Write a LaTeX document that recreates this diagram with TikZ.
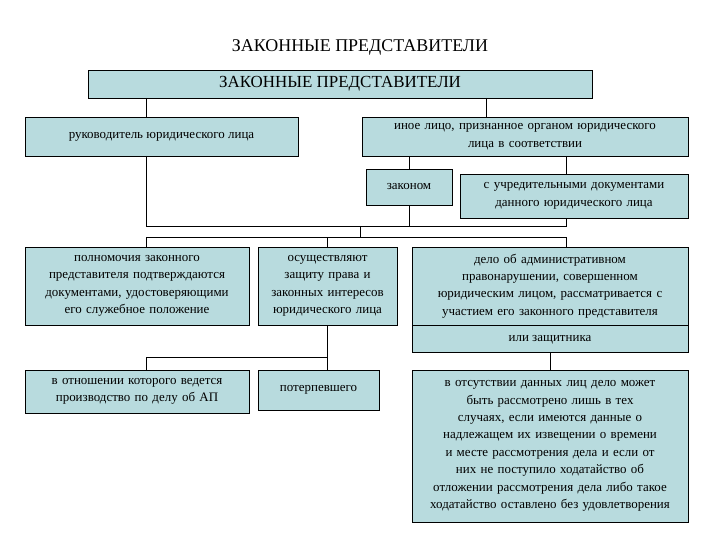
\documentclass[tikz,border=0pt]{standalone}
\usepackage{fontspec}
\setmainfont{Liberation Serif}
\begin{document}
\begin{tikzpicture}[x=1bp,y=-1bp,
 box/.style={draw=black,line width=0.8bp,fill={rgb,255:red,184;green,219;blue,222},align=center,inner sep=1bp,font=\fontsize{13}{17.5}\selectfont},
 ln/.style={line width=0.8bp}]
\useasboundingbox (0,0) rectangle (720,540);
\node[font=\fontsize{18}{20}\selectfont] (title) at (360,47) {ЗАКОННЫЕ ПРЕДСТАВИТЕЛИ};
\node[box,minimum width=504bp,minimum height=28bp,font=\fontsize{17}{20}\selectfont] (top) at (340,84) {ЗАКОННЫЕ ПРЕДСТАВИТЕЛИ};
\node[box,minimum width=273bp,minimum height=39bp] (ruk) at (161.5,136.5) {руководитель юридического лица};
\node[box,minimum width=326bp,minimum height=39bp,text width=320bp] (inoe) at (525,136.5) {иное лицо, признанное органом юридического\\лица в соответствии};
\node[box,minimum width=86bp,minimum height=36bp] (zak) at (409,187) {законом};
\node[box,minimum width=228bp,minimum height=44bp,text width=224bp] (uchr) at (574,196) {с учредительными документами\\данного юридического лица};
\node[box,minimum width=224bp,minimum height=78bp,text width=222bp] (poln) at (137,286) {полномочия законного\\представителя подтверждаются\\документами, удостоверяющими\\его служебное положение};
\node[box,minimum width=139bp,minimum height=78bp,text width=137bp] (osu) at (327.5,286) {осуществляют\\защиту права и\\законных интересов\\юридического лица};
\node[box,minimum width=276bp,minimum height=78bp,text width=274bp] (delo) at (550,286) {дело об административном\\правонарушении, совершенном\\юридическим лицом, рассматривается с\\участием его законного представителя};
\node[box,minimum width=276bp,minimum height=27bp,anchor=north] (zash) at (delo.south) {или защитника};
\node[box,minimum width=224bp,minimum height=43bp,text width=222bp] (otn) at (137,391.5) {в отношении которого ведется\\производство по делу об АП};
\node[box,minimum width=121bp,minimum height=40bp] (pot) at (318.5,390) {потерпевшего};
\node[box,minimum width=276bp,minimum height=152bp,text width=274bp] (otsut) at (550,446) {в отсутствии данных лиц дело может\\быть рассмотрено лишь в тех\\случаях, если имеются данные о\\надлежащем их извещении о времени\\и месте рассмотрения дела и если от\\них не поступило ходатайство об\\отложении рассмотрения дела либо такое\\ходатайство оставлено без удовлетворения};
\coordinate (bus1) at (360,226);
\draw[ln] (146,98) -- (146,117);
\draw[ln] (486,98) -- (486,117);
\draw[ln] (146,156) -- (146,226) -- (566,226) -- (566,218);
\draw[ln] (zak.south) -- (409,226);
\draw[ln] (bus1) -- (360,237);
\draw[ln] (146,247) -- (146,237) -- (566,237) -- (566,247);
\draw[ln] (osu.north) -- (osu.north |- 0,237);
\draw[ln] (zak.north) -- (zak.north |- inoe.south);
\draw[ln] (566,174) -- (566,156);
\draw[ln] (osu.south) -- (osu.south |- pot.north);
\draw[ln] (osu.south |- 0,357) -- (146,357) -- (146,370);
\draw[ln] (zash.south) -- (otsut.north);
\end{tikzpicture}
\end{document}
